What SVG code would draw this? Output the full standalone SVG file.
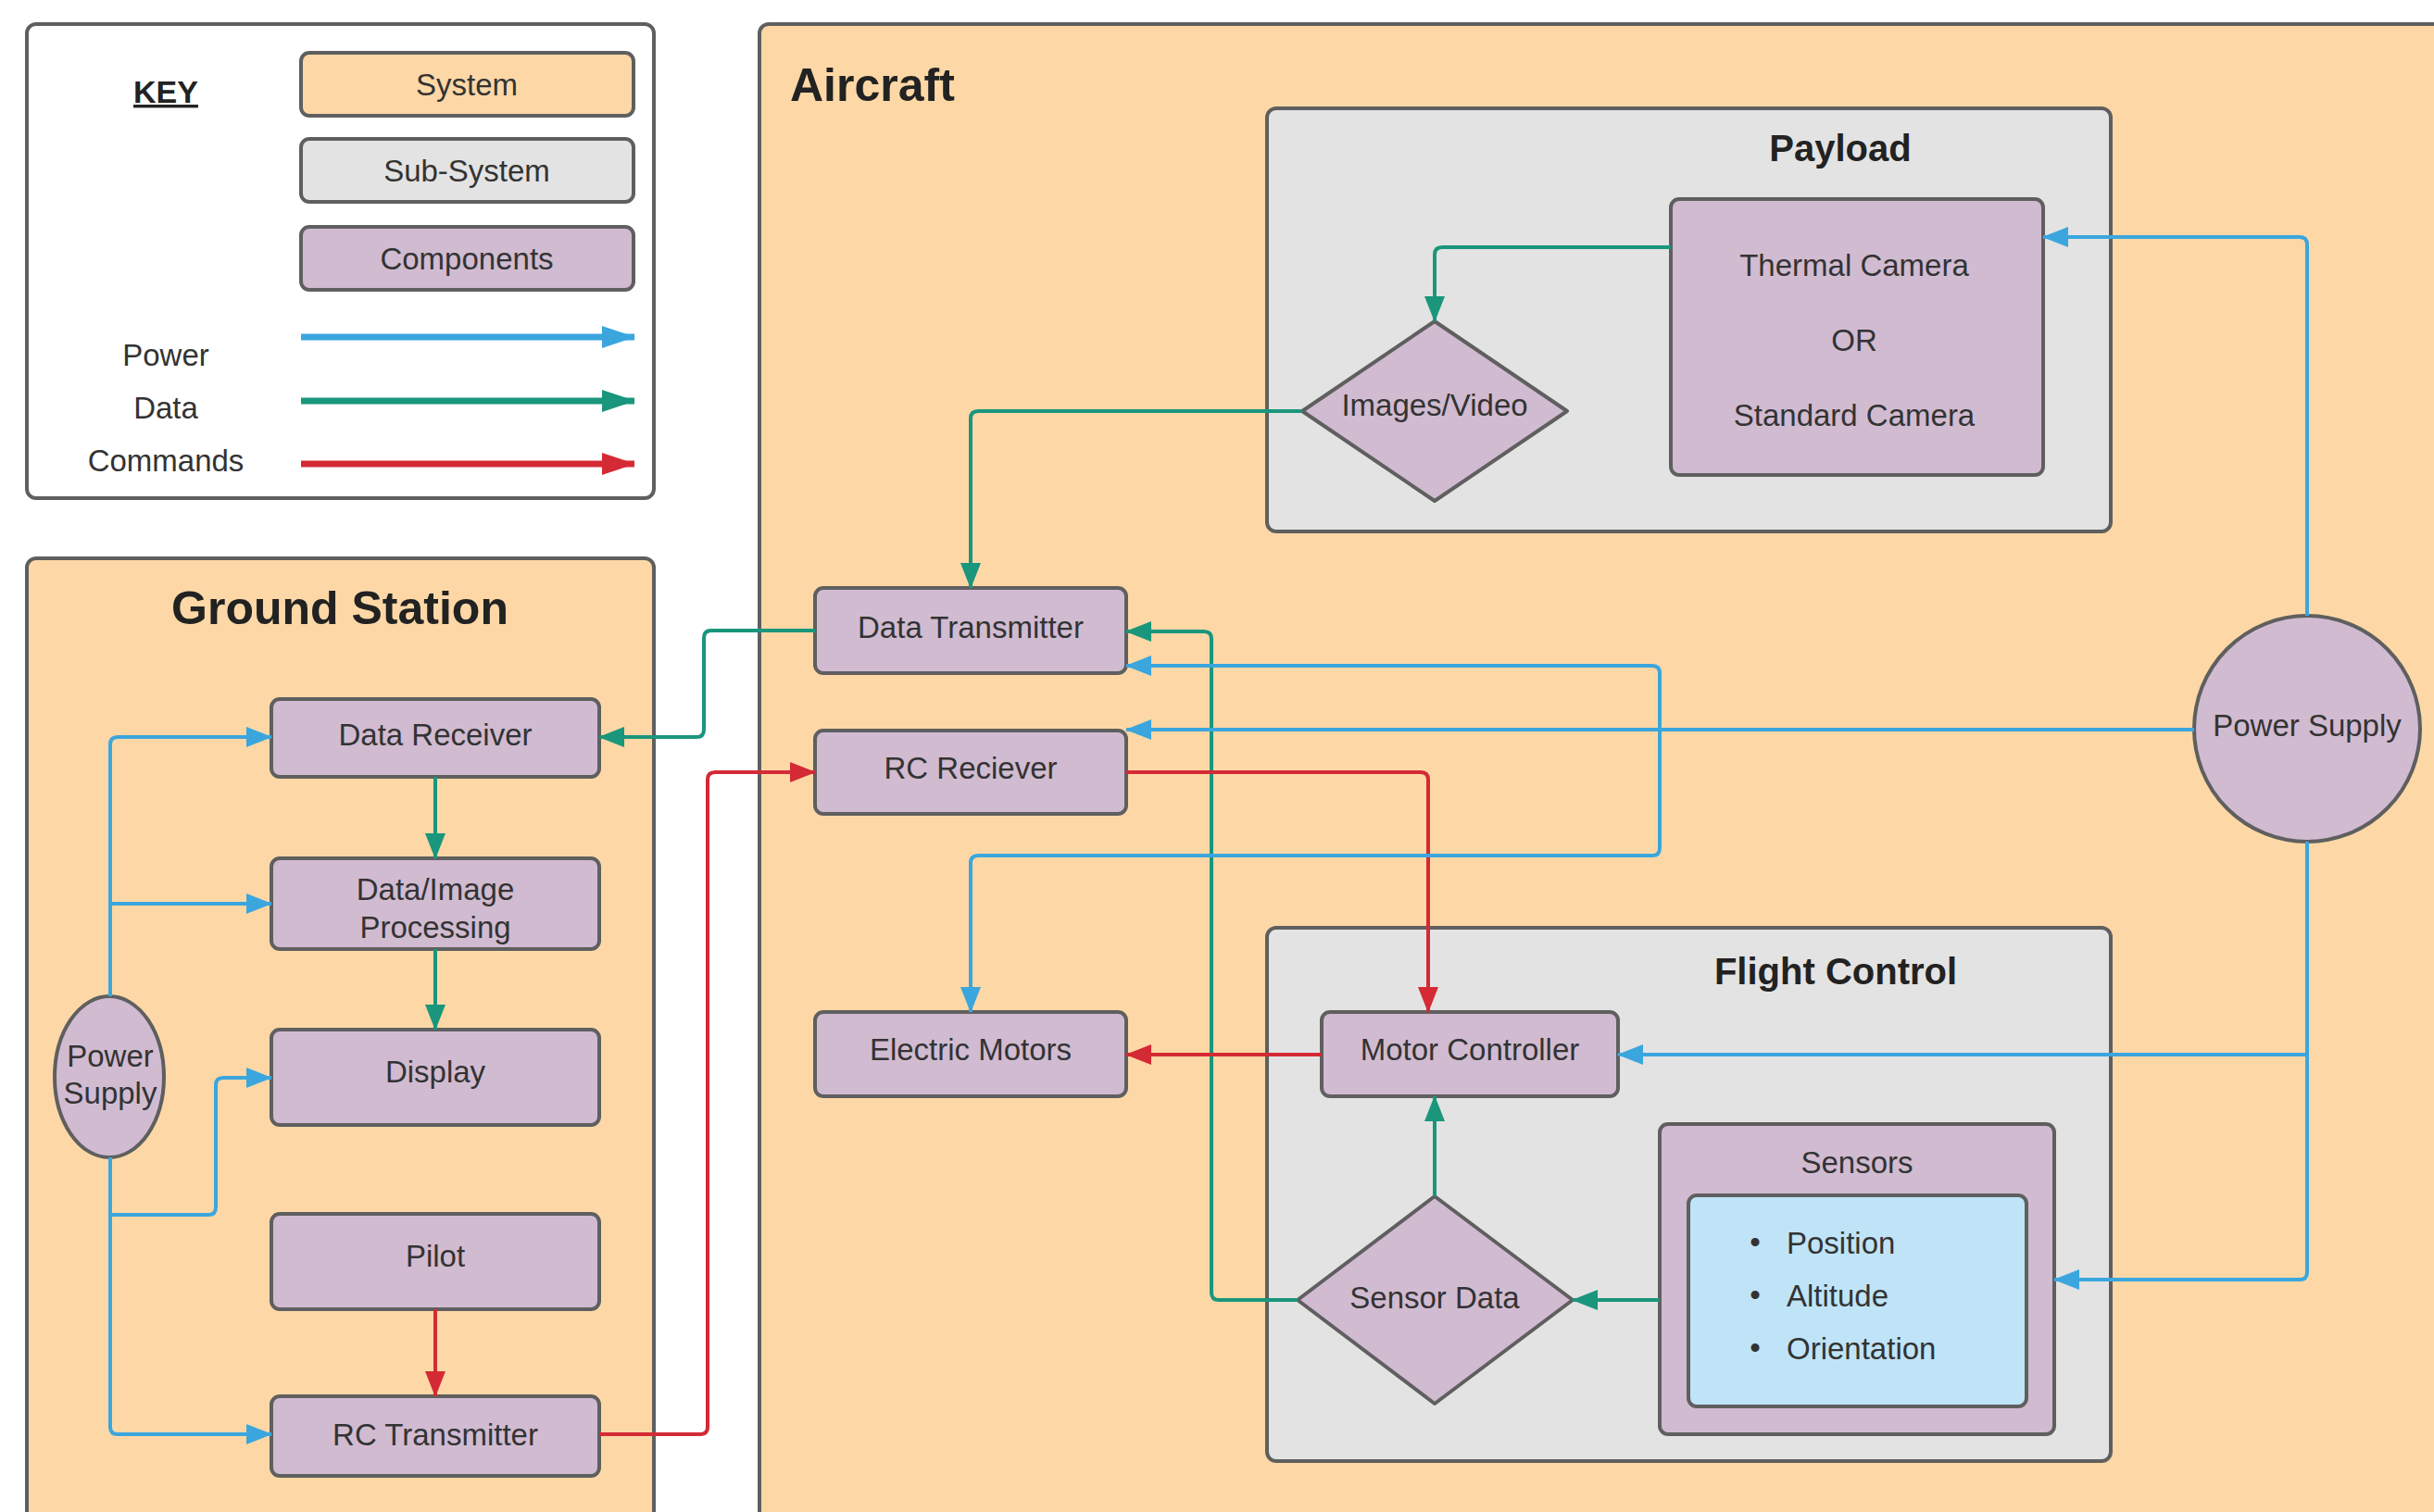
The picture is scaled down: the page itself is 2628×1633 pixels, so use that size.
<svg xmlns="http://www.w3.org/2000/svg" width="2628" height="1633" viewBox="0 0 2628 1633">
<defs>
<style>
text{font-family:"Liberation Sans",Arial,sans-serif;fill:#333;}
.lbl{font-size:33px;text-anchor:middle;}
.ttl{font-size:50px;font-weight:bold;fill:#222;}
.sub{font-size:40px;font-weight:bold;fill:#222;text-anchor:middle;}
.sys{fill:#FDD8A6;stroke:#5f5f5f;stroke-width:4;}
.ssy{fill:#E3E3E3;stroke:#5f5f5f;stroke-width:4;}
.cmp{fill:#D1BBD1;stroke:#5f5f5f;stroke-width:4;}
.inr{fill:#BFE4F8;stroke:#5f5f5f;stroke-width:4;}
.key{fill:#FFFFFF;stroke:#5f5f5f;stroke-width:4;}
.pw{fill:none;stroke:#3BA6DE;stroke-width:4;stroke-linejoin:round;marker-end:url(#aB);}
.dt{fill:none;stroke:#1A967C;stroke-width:4;stroke-linejoin:round;marker-end:url(#aG);}
.cm{fill:none;stroke:#D42A35;stroke-width:4;stroke-linejoin:round;marker-end:url(#aR);}
</style>
<marker id="aB" markerUnits="userSpaceOnUse" viewBox="0 0 28 22" markerWidth="28" markerHeight="22" refX="27" refY="11" orient="auto"><path d="M0,0 L28,11 L0,22 z" fill="#3BA6DE"/></marker>
<marker id="aG" markerUnits="userSpaceOnUse" viewBox="0 0 28 22" markerWidth="28" markerHeight="22" refX="27" refY="11" orient="auto"><path d="M0,0 L28,11 L0,22 z" fill="#1A967C"/></marker>
<marker id="aR" markerUnits="userSpaceOnUse" viewBox="0 0 28 22" markerWidth="28" markerHeight="22" refX="27" refY="11" orient="auto"><path d="M0,0 L28,11 L0,22 z" fill="#D42A35"/></marker>
<marker id="kB" markerUnits="userSpaceOnUse" viewBox="0 0 36 24" markerWidth="36" markerHeight="24" refX="35" refY="12" orient="auto"><path d="M0,0 L36,12 L0,24 z" fill="#3BA6DE"/></marker>
<marker id="kG" markerUnits="userSpaceOnUse" viewBox="0 0 36 24" markerWidth="36" markerHeight="24" refX="35" refY="12" orient="auto"><path d="M0,0 L36,12 L0,24 z" fill="#1A967C"/></marker>
<marker id="kR" markerUnits="userSpaceOnUse" viewBox="0 0 36 24" markerWidth="36" markerHeight="24" refX="35" refY="12" orient="auto"><path d="M0,0 L36,12 L0,24 z" fill="#D42A35"/></marker>
</defs>
<rect width="2628" height="1633" fill="#FFFFFF"/>

<g id="key">
<rect class="key" x="29" y="26" width="677" height="512" rx="10"/>
<text x="179" y="111" style="font-size:34px;font-weight:bold;text-anchor:middle;fill:#222;text-decoration:underline;">KEY</text>
<rect class="sys" x="325" y="57" width="359" height="68" rx="9"/>
<text class="lbl" x="504" y="103">System</text>
<rect class="ssy" x="325" y="150" width="359" height="68" rx="9"/>
<text class="lbl" x="504" y="196">Sub-System</text>
<rect class="cmp" x="325" y="245" width="359" height="68" rx="9"/>
<text class="lbl" x="504" y="291">Components</text>
<line x1="325" y1="364" x2="685" y2="364" stroke="#3BA6DE" stroke-width="7" marker-end="url(#kB)"/>
<line x1="325" y1="433" x2="685" y2="433" stroke="#1A967C" stroke-width="7" marker-end="url(#kG)"/>
<line x1="325" y1="501" x2="685" y2="501" stroke="#D42A35" stroke-width="7" marker-end="url(#kR)"/>
<text class="lbl" x="179" y="395">Power</text>
<text class="lbl" x="179" y="452">Data</text>
<text class="lbl" x="179" y="509">Commands</text>
</g>

<g id="ground-station">
<rect class="sys" x="29" y="603" width="677" height="1060" rx="10"/>
<text class="ttl" x="367" y="674" text-anchor="middle">Ground Station</text>
</g>
<g id="aircraft">
<rect class="sys" x="820" y="26" width="1840" height="1640" rx="10"/>
<text class="ttl" x="853" y="109">Aircraft</text>
</g>
<g id="payload">
<rect class="ssy" x="1368" y="117" width="911" height="457" rx="10"/>
<text class="sub" x="1987" y="174">Payload</text>
</g>
<g id="flight-control">
<rect class="ssy" x="1368" y="1002" width="911" height="576" rx="10"/>
<text class="sub" x="1982" y="1063">Flight Control</text>
</g>

<g id="data-receiver"><rect class="cmp" x="293" y="755" width="354" height="84" rx="9"/><text class="lbl" x="470" y="805">Data Receiver</text></g>
<g id="data-image-processing"><rect class="cmp" x="293" y="927" width="354" height="98" rx="9"/><text class="lbl" x="470" y="972">Data/Image</text><text class="lbl" x="470" y="1013">Processing</text></g>
<g id="display"><rect class="cmp" x="293" y="1112" width="354" height="103" rx="9"/><text class="lbl" x="470" y="1169">Display</text></g>
<g id="pilot"><rect class="cmp" x="293" y="1311" width="354" height="103" rx="9"/><text class="lbl" x="470" y="1368">Pilot</text></g>
<g id="rc-transmitter"><rect class="cmp" x="293" y="1508" width="354" height="86" rx="9"/><text class="lbl" x="470" y="1561">RC Transmitter</text></g>
<g id="ground-power-supply"><ellipse class="cmp" cx="118" cy="1163" rx="59" ry="87"/><text class="lbl" x="119" y="1152">Power</text><text class="lbl" x="119" y="1192">Supply</text></g>

<g id="thermal-camera"><rect class="cmp" x="1804" y="215" width="402" height="298" rx="9"/><text class="lbl" x="2002" y="298">Thermal Camera</text><text class="lbl" x="2002" y="379">OR</text><text class="lbl" x="2002" y="460">Standard Camera</text></g>
<g id="images-video"><path class="cmp" d="M1549,347 L1692,444 L1549,541 L1406,444 Z" stroke-linejoin="round"/><text class="lbl" x="1549" y="449">Images/Video</text></g>
<g id="data-transmitter"><rect class="cmp" x="880" y="635" width="336" height="92" rx="9"/><text class="lbl" x="1048" y="689">Data Transmitter</text></g>
<g id="rc-reciever"><rect class="cmp" x="880" y="789" width="336" height="90" rx="9"/><text class="lbl" x="1048" y="841">RC Reciever</text></g>
<g id="electric-motors"><rect class="cmp" x="880" y="1093" width="336" height="91" rx="9"/><text class="lbl" x="1048" y="1145">Electric Motors</text></g>
<g id="motor-controller"><rect class="cmp" x="1427" y="1093" width="320" height="91" rx="9"/><text class="lbl" x="1587" y="1145">Motor Controller</text></g>
<g id="sensors"><rect class="cmp" x="1792" y="1214" width="426" height="335" rx="9"/><text class="lbl" x="2005" y="1267">Sensors</text>
<rect class="inr" x="1823" y="1291" width="365" height="228" rx="9"/>
<text x="1895" y="1353" style="font-size:33px;text-anchor:middle;">•</text><text x="1929" y="1354" style="font-size:33px;">Position</text>
<text x="1895" y="1410" style="font-size:33px;text-anchor:middle;">•</text><text x="1929" y="1411" style="font-size:33px;">Altitude</text>
<text x="1895" y="1467" style="font-size:33px;text-anchor:middle;">•</text><text x="1929" y="1468" style="font-size:33px;">Orientation</text></g>
<g id="sensor-data"><path class="cmp" d="M1549,1292 L1698,1404 L1549,1516 L1401,1404 Z" stroke-linejoin="round"/><text class="lbl" x="1549" y="1413">Sensor Data</text></g>
<g id="aircraft-power-supply"><circle class="cmp" cx="2491" cy="787" r="122"/><text class="lbl" x="2491" y="795">Power Supply</text></g>

<g id="connectors">
<path class="pw" d="M119,1076 V804 Q119,796 127,796 H293"/>
<path class="pw" d="M119,976 H293"/>
<path class="pw" d="M119,1250 V1541 Q119,1549 127,1549 H293"/>
<path class="pw" d="M119,1312 H225 Q233,1312 233,1304 V1172 Q233,1164 241,1164 H293"/>
<path class="dt" d="M470,839 V927"/>
<path class="dt" d="M470,1025 V1112"/>
<path class="cm" d="M470,1414 V1508"/>
<path class="dt" d="M880,681 H768 Q760,681 760,689 V788 Q760,796 752,796 H647"/>
<path class="cm" d="M647,1549 H756 Q764,1549 764,1541 V842 Q764,834 772,834 H880"/>
<path class="dt" d="M1804,267 H1557 Q1549,267 1549,275 V347"/>
<path class="dt" d="M1406,444 H1056 Q1048,444 1048,452 V635"/>
<path class="dt" d="M1401,1404 H1316 Q1308,1404 1308,1396 V690 Q1308,682 1300,682 H1216"/>
<path class="dt" d="M1549,1292 V1184"/>
<path class="dt" d="M1792,1404 H1698"/>
<path class="cm" d="M1216,834 H1534 Q1542,834 1542,842 V1093"/>
<path class="cm" d="M1427,1139 H1216"/>
<path class="pw" d="M2491,665 V264 Q2491,256 2483,256 H2206"/>
<path class="pw" d="M2369,788 H1216"/>
<path class="pw" d="M1792,788 V727 Q1792,719 1784,719 H1216"/>
<path class="pw" d="M1792,788 V916 Q1792,924 1784,924 H1056 Q1048,924 1048,932 V1093"/>
<path class="pw" d="M2491,909 V1374 Q2491,1382 2483,1382 H2218"/>
<path class="pw" d="M2491,1139 H1747"/>
</g>
</svg>
